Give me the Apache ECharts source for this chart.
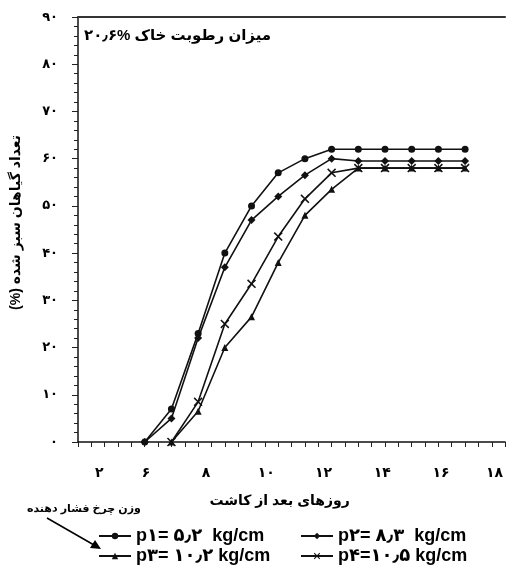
<!DOCTYPE html>
<html>
<head>
<meta charset="utf-8">
<script src="https://cdn.jsdelivr.net/npm/echarts@6/dist/echarts.min.js"></script>
<style>
  html, body { margin: 0; padding: 0; background: #fff; }
  #chart { width: 506px; height: 566px; }
</style>
</head>
<body>
<div id="chart"></div>
<script>
// روزهای بعد از کاشت
const days = [6, 7, 8, 9, 10, 11, 12, 13, 14, 15, 16, 17, 18];
// درصد گیاهان سبز شده
const p1 = [0, 7, 23, 40, 50, 57, 60, 62, 62, 62, 62, 62, 62];
const p2 = [0, 5, 22, 37, 47, 52, 56.5, 60, 59.5, 59.5, 59.5, 59.5, 59.5];
const p3 = [null, 0, 6.5, 20, 26.5, 38, 48, 53.5, 58, 58, 58, 58, 58];
const p4 = [null, 0, 8.5, 25, 33.5, 43.5, 51.5, 57, 58, 58, 58, 58, 58];
const seriesNames = ['p۱= ۵٫۲  kg/cm', 'p۲= ۸٫۳  kg/cm', 'p۳= ۱۰٫۲ kg/cm', 'p۴=۱۰٫۵ kg/cm'];

// tick labels of the x axis (in the original they sit a bit off the day scale)
const xTickText = ['۲', '۶', '۸', '۱۰', '۱۲', '۱۴', '۱۶', '۱۸'];
const xTickAt = [4.3, 6.05, 8.3, 10.55, 12.7, 14.9, 17.1, 19.1];

const fa = v => String(v).replace(/\d/g, d => '۰۱۲۳۴۵۶۷۸۹'[d]);
const pairs = arr => days.map((d, i) => [d, arr[i]]);

const FONT = 'Arial, "Liberation Sans", "DejaVu Sans", sans-serif';
const crossPath = 'path://M0,1.2L1.2,0L5,3.8L8.8,0L10,1.2L6.2,5L10,8.8L8.8,10L5,6.2L1.2,10L0,8.8L3.8,5Z';

let chart = echarts.init(document.getElementById('chart'));

function mkSeries(name, arr, symbol, size) {
  return {
    name: name,
    type: 'line',
    data: pairs(arr),
    symbol: symbol,
    symbolSize: size,
    connectNulls: false,
    lineStyle: { color: '#111', width: 1.6 },
    itemStyle: { color: '#111' },
    emphasis: { disabled: true }
  };
}

function mkLegend(name, left, top) {
  return {
    data: [name],
    left: left,
    top: top,
    padding: 0,
    itemWidth: 32,
    itemHeight: 8,
    itemGap: 0,
    textStyle: { fontFamily: FONT, fontSize: 18, fontWeight: 'bold', color: '#000' }
  };
}

let option = {
  animation: false,
  backgroundColor: '#fff',
  title: {
    text: 'میزان رطوبت خاک %۲۰٫۶',
    left: 84,
    top: 28,
    padding: 0,
    textStyle: { fontFamily: FONT, fontSize: 15, fontWeight: 'bold', color: '#000' }
  },
  grid: { left: 78, right: 0, top: 17, bottom: 124 },
  legend: [
    mkLegend(seriesNames[0], 98, 527),
    mkLegend(seriesNames[1], 300, 527),
    mkLegend(seriesNames[2], 98, 547),
    mkLegend(seriesNames[3], 300, 547)
  ],
  xAxis: [
    {
      type: 'value',
      min: 3.5,
      max: 19.5,
      interval: 0.5,
      position: 'bottom',
      name: 'روزهای بعد از کاشت',
      nameLocation: 'middle',
      nameGap: 52,
      nameTextStyle: { fontFamily: FONT, fontSize: 14, fontWeight: 'bold', color: '#000', padding: [0, 24, 0, 0] },
      axisLine: { lineStyle: { color: '#111', width: 1.5 } },
      axisTick: { show: true, inside: false, length: 5, lineStyle: { color: '#222', width: 1 } },
      axisLabel: {
        customValues: xTickAt,
        margin: 24,
        fontFamily: FONT,
        fontSize: 14,
        fontWeight: 'bold',
        color: '#000',
        formatter: v => {
          let i = xTickAt.findIndex(t => Math.abs(t - v) < 1e-6);
          return i >= 0 ? xTickText[i] : '';
        }
      },
      splitLine: { show: false }
    },
    {
      type: 'value',
      min: 3.5,
      max: 19.5,
      position: 'top',
      axisLine: { lineStyle: { color: '#333', width: 2 } },
      axisTick: { show: false },
      axisLabel: { show: false },
      splitLine: { show: false }
    }
  ],
  yAxis: {
    type: 'value',
    min: 0,
    max: 90,
    interval: 10,
    name: 'تعداد گیاهان سبز شده (%)\u200F',
    nameLocation: 'middle',
    nameGap: 55,
    nameTextStyle: { fontFamily: FONT, fontSize: 14, fontWeight: 'bold', color: '#000', padding: [0, 0, 0, 14] },
    axisLine: { show: true, lineStyle: { color: '#111', width: 1.5 } },
    axisTick: { show: true, length: 6, lineStyle: { color: '#222', width: 1 } },
    minorTick: { show: true, splitNumber: 5, length: 4, lineStyle: { color: '#222', width: 1 } },
    axisLabel: {
      margin: 20,
      fontFamily: FONT,
      fontSize: 13,
      fontWeight: 'bold',
      color: '#000',
      formatter: v => fa(v)
    },
    splitLine: { show: false }
  },
  graphic: [
    {
      type: 'text',
      left: 27,
      top: 503,
      style: { text: 'وزن چرخ فشار دهنده', font: 'bold 11px ' + FONT, fill: '#000' }
    },
    {
      type: 'line',
      shape: { x1: 47, y1: 518, x2: 94, y2: 545 },
      style: { stroke: '#000', lineWidth: 1.5 }
    },
    {
      type: 'polygon',
      shape: { points: [[101, 549], [90, 548], [95, 540]] },
      style: { fill: '#000' }
    }
  ],
  series: [
    mkSeries(seriesNames[0], p1, 'circle', 7),
    mkSeries(seriesNames[1], p2, 'diamond', 8),
    mkSeries(seriesNames[2], p3, 'triangle', 7),
    mkSeries(seriesNames[3], p4, crossPath, 9)
  ]
};

chart.setOption(option);
</script>
</body>
</html>
